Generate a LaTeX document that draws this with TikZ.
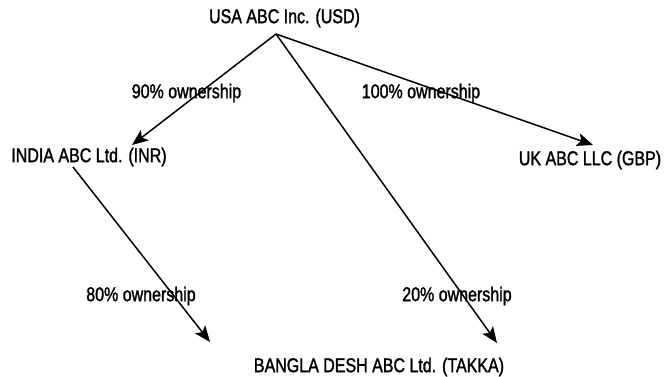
\documentclass[tikz,border=0pt]{standalone}
\usepackage{fontspec}
\setmainfont{Liberation Sans}[FakeStretch=0.8,FakeBold=1.5]
\usetikzlibrary{arrows.meta}
\begin{document}
\begin{tikzpicture}[x=1pt,y=-1pt,
  lbl/.style={font=\fontsize{20}{22}\selectfont, inner sep=0pt},
  arr/.style={line width=1.5pt, -{Stealth[length=16pt,width=13pt,inset=3.5pt]}}]
\useasboundingbox (0,0) rectangle (665,376);
\node[lbl] (usa) at (284.5,18) {USA ABC Inc. (USD)};
\node[lbl] (india) at (89,157) {INDIA ABC Ltd. (INR)};
\node[lbl] (uk) at (590,160) {UK ABC LLC (GBP)};
\node[lbl] (bd) at (379,367) {BANGLA DESH ABC Ltd. (TAKKA)};
\node[lbl] (l90) at (186.5,93) {90\% ownership};
\node[lbl] (l100) at (421,93) {100\% ownership};
\node[lbl] (l80) at (141,296) {80\% ownership};
\node[lbl] (l20) at (457,296) {20\% ownership};
\coordinate (usaout) at (276,34);
\coordinate (indiain) at (132,145);
\coordinate (ukin) at (593,145);
\coordinate (indiaout) at (73,167);
\coordinate (bdinl) at (210,342);
\coordinate (bdinr) at (497,343);
\draw[arr] (usaout) -- (indiain);
\draw[arr] (usaout) -- (ukin);
\draw[arr] (usaout) -- (bdinr);
\draw[arr] (indiaout) -- (bdinl);
\end{tikzpicture}
\end{document}
